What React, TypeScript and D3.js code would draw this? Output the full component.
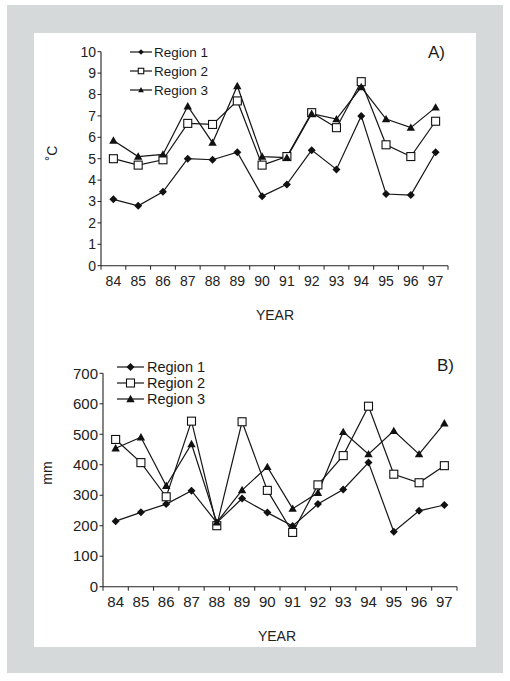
import React from "react";
import * as d3 from "d3";

const years = ["84","85","86","87","88","89","90","91","92","93","94","95","96","97"];
const seriesNames = ["Region 1","Region 2","Region 3"];

const tempR1 = [3.1,2.8,3.45,5.0,4.95,5.3,3.25,3.8,5.4,4.5,7.0,3.35,3.3,5.3];
const tempR2 = [5.0,4.7,4.95,6.65,6.6,7.7,4.7,5.1,7.15,6.45,8.6,5.65,5.1,6.75];
const tempR3 = [5.85,5.1,5.2,7.45,5.75,8.4,5.1,5.05,7.1,6.85,8.35,6.85,6.45,7.4];

const rainR1 = [215,244,271,315,210,289,243,199,271,319,407,180,249,268];
const rainR2 = [483,407,295,543,200,541,316,178,334,430,592,369,341,397];
const rainR3 = [454,490,331,468,211,317,393,256,308,508,435,511,435,536];

const tempTicks = [0,1,2,3,4,5,6,7,8,9,10];
const rainTicks = [0,100,200,300,400,500,600,700];

const FONT = "'Liberation Sans', Arial, Helvetica, sans-serif";

type PanelProps = {
  series: number[][];
  ticks: number[];
  yMax: number;
  x0: number; x1: number; yTop: number; yBot: number;
  tickFont: number;
  legend: { lx0: number; lx1: number; tx: number; ys: number[]; font: number; msize: number };
  tag: string; tagX: number; tagY: number;
  yLabel: string; yLabelX: number; yLabelY: number;
  xLabelX: number; xLabelY: number;
  mSize: number;
};

function Marker({ kind, x, y, s }: { kind: number; x: number; y: number; s: number }) {
  if (kind === 0) {
    const r = s / 2;
    return <path d={`M${x},${y - r}L${x + r},${y}L${x},${y + r}L${x - r},${y}Z`} fill="#111" />;
  }
  if (kind === 1) {
    const r = s / 2;
    return <rect x={x - r} y={y - r} width={s} height={s} fill="#fff" stroke="#111" strokeWidth={1.1} />;
  }
  const r = s / 2;
  return <path d={`M${x},${y - r * 1.05}L${x + r * 1.05},${y + r * 0.8}L${x - r * 1.05},${y + r * 0.8}Z`} fill="#111" />;
}

function Panel(p: PanelProps) {
  const xs = d3.scaleBand<string>().domain(years).range([p.x0, p.x1]).padding(0);
  const ys = d3.scaleLinear().domain([0, p.yMax]).range([p.yBot, p.yTop]);
  const cx = (d: string) => (xs(d) as number) + xs.bandwidth() / 2;
  const line = d3.line<number>().x((_, i) => cx(years[i])).y((v) => ys(v));
  const boundaries = d3.range(years.length + 1).map((i) => p.x0 + i * xs.bandwidth());
  return (
    <g>
      {/* axes */}
      <line x1={p.x0} x2={p.x0} y1={ys(p.yMax)} y2={p.yBot} stroke="#222" strokeWidth={1.1} />
      <line x1={p.x0} x2={p.x1} y1={p.yBot} y2={p.yBot} stroke="#222" strokeWidth={1.1} />
      {p.ticks.map((t) => (
        <g key={"y" + t}>
          <line x1={p.x0 - 3.5} x2={p.x0} y1={ys(t)} y2={ys(t)} stroke="#222" strokeWidth={1} />
          <text x={p.x0 - 5} y={ys(t)} dy="0.35em" textAnchor="end" fontSize={p.tickFont} fontFamily={FONT} fill="#222">{t}</text>
        </g>
      ))}
      {boundaries.map((b, i) => (
        <line key={"b" + i} x1={b} x2={b} y1={p.yBot} y2={p.yBot + 4} stroke="#222" strokeWidth={1} />
      ))}
      {years.map((yv) => (
        <text key={"x" + yv} x={cx(yv)} y={p.yBot + 20} textAnchor="middle" fontSize={p.tickFont} fontFamily={FONT} fill="#222">{yv}</text>
      ))}
      {/* lines */}
      {p.series.map((s, k) => (
        <path key={"l" + k} d={line(s) as string} fill="none" stroke="#151515" strokeWidth={1.2} />
      ))}
      {p.series.map((s, k) =>
        s.map((v, i) => <Marker key={`m${k}-${i}`} kind={k} x={cx(years[i])} y={ys(v)} s={p.mSize} />)
      )}
      {/* legend */}
      {seriesNames.map((n, k) => (
        <g key={"lg" + k}>
          <line x1={p.legend.lx0} x2={p.legend.lx1} y1={p.legend.ys[k]} y2={p.legend.ys[k]} stroke="#151515" strokeWidth={1.2} />
          <Marker kind={k} x={(p.legend.lx0 + p.legend.lx1) / 2} y={p.legend.ys[k]} s={p.legend.msize} />
          <text x={p.legend.tx} y={p.legend.ys[k]} dy="0.36em" fontSize={p.legend.font} fontFamily={FONT} fill="#1a1a1a">{n}</text>
        </g>
      ))}
      <text x={p.tagX} y={p.tagY} dy="0.36em" fontSize={17} fontFamily={FONT} fill="#1a1a1a">{p.tag}</text>
      <text transform={`translate(${p.yLabelX},${p.yLabelY}) rotate(-90)`} textAnchor="middle" dy="0.35em" fontSize={14} fontFamily={FONT} fill="#222">{p.yLabel}</text>
      <text x={p.xLabelX} y={p.xLabelY} dy="0.36em" textAnchor="middle" fontSize={14} fontFamily={FONT} fill="#222">YEAR</text>
    </g>
  );
}

export default function App() {
  return (
    <svg width={510} height={681} style={{ position: "absolute", left: 0, top: 0, background: "#fff" }}>
      <rect x={0} y={0} width={510} height={681} fill="#fff" />
      <rect x={7} y={5} width={496} height={668} fill="#d5d9d9" />
      <rect x={34} y={33} width={442} height={614} fill="#fff" />
      <Panel
        series={[tempR1, tempR2, tempR3]}
        ticks={tempTicks}
        yMax={10}
        x0={101} x1={448} yTop={51.7} yBot={265.7}
        tickFont={14}
        legend={{ lx0: 130, lx1: 152, tx: 154, ys: [52, 71, 90], font: 13.5, msize: 5.5 }}
        tag="A)" tagX={428} tagY={52}
        yLabel="˚C" yLabelX={52} yLabelY={153}
        xLabelX={275} xLabelY={315}
        mSize={8}
      />
      <Panel
        series={[rainR1, rainR2, rainR3]}
        ticks={rainTicks}
        yMax={700}
        x0={103} x1={457} yTop={373.3} yBot={586.7}
        tickFont={15}
        legend={{ lx0: 117, lx1: 144, tx: 147, ys: [367, 383, 399], font: 14.5, msize: 8 }}
        tag="B)" tagX={437} tagY={365}
        yLabel="mm" yLabelX={47} yLabelY={473}
        xLabelX={277} xLabelY={636}
        mSize={8}
      />
    </svg>
  );
}
